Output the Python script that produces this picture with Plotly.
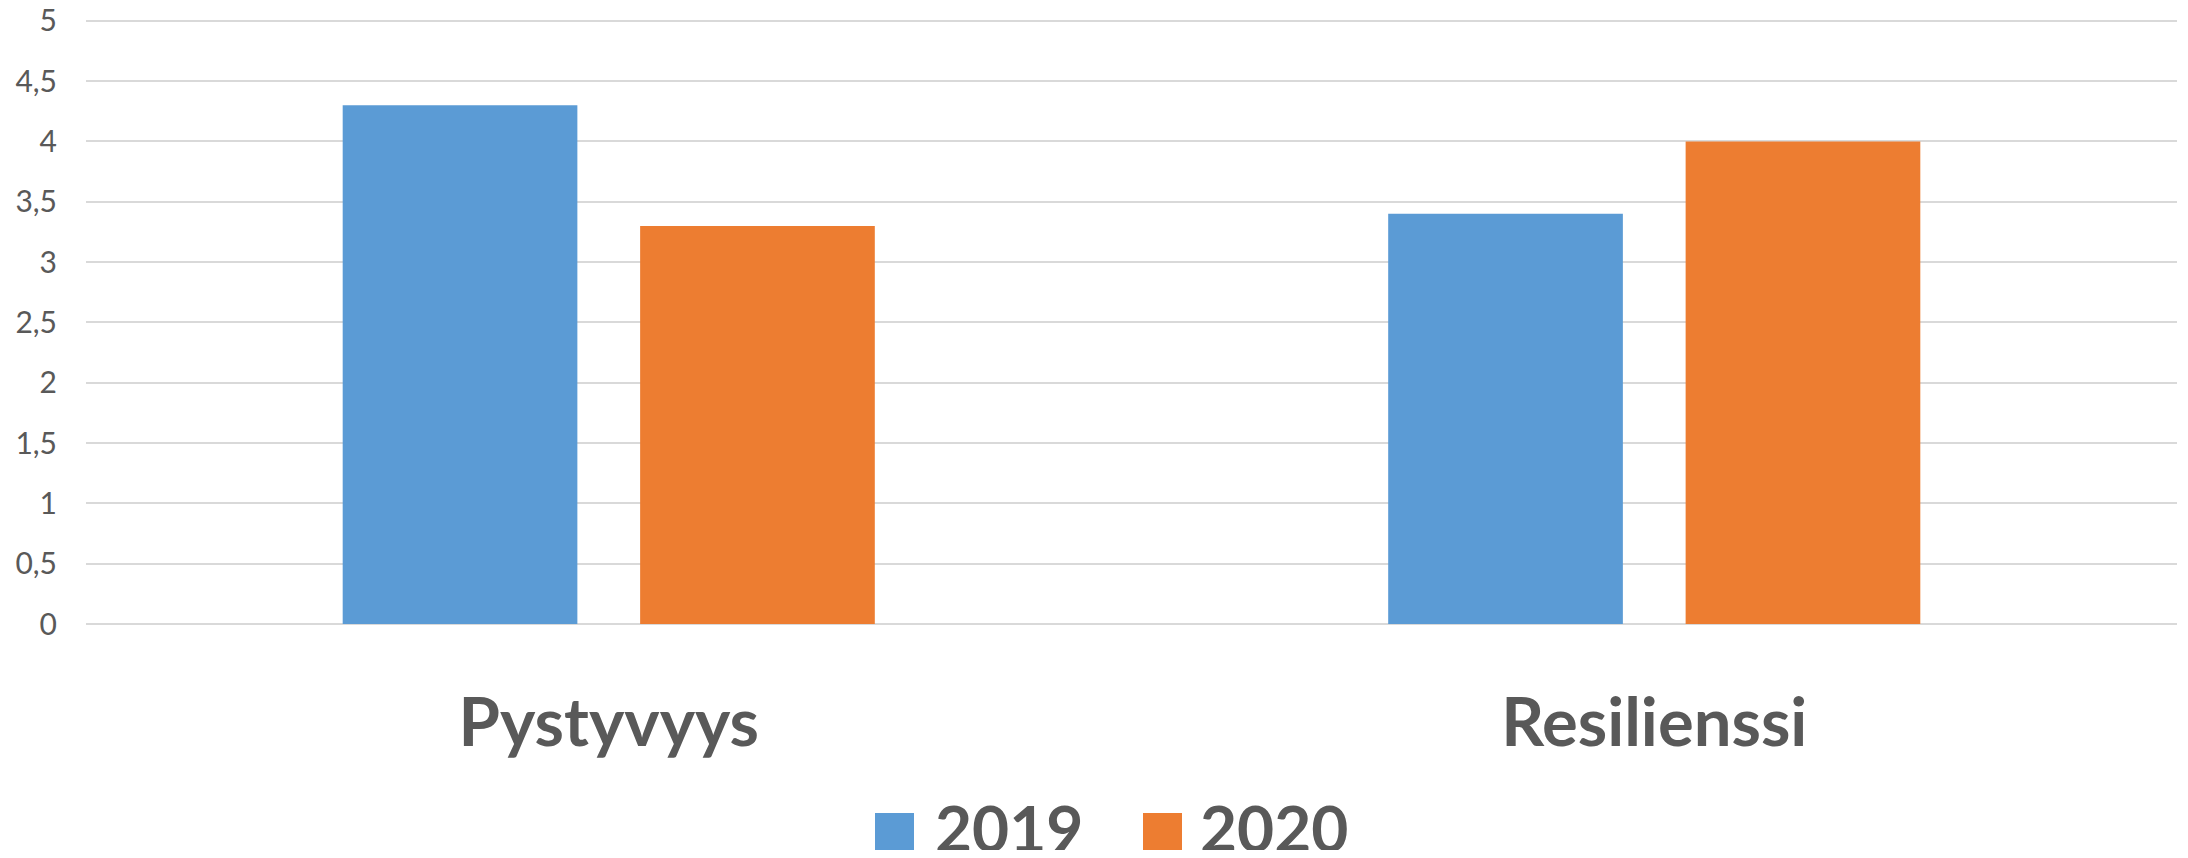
import plotly.graph_objects as go

categories = ["Pystyvyys", "Resilienssi"]
series_names = ["2019", "2020"]
values_2019 = [4.3, 3.4]
values_2020 = [3.3, 4.0]
y_ticks = [0, 0.5, 1, 1.5, 2, 2.5, 3, 3.5, 4, 4.5, 5]

COLORS = ["#5B9BD5", "#ED7D31"]
TEXT = "#595959"
FONT = "Lato"

# the page body has an 8px margin, so the figure is made 16px smaller
BODY = 8
W, H = 2188 - 2 * BODY, 858 - 2 * BODY
L, R, T, B = 78, 3, 11, 226

fig = go.Figure()
for name, vals, color in zip(series_names, [values_2019, values_2020], COLORS):
    fig.add_trace(go.Bar(
        x=categories,
        y=vals,
        name=name,
        marker=dict(color=color, line=dict(width=0)),
        showlegend=False
    ))


def px_to_paper(x, y):
    # screen pixels -> paper coords
    x, y = x - BODY, y - BODY
    return (x - L) / (W - L - R), (H - B - y) / (H - T - B)


# legend drawn by hand, the built-in one has tiny squares
legend_items = [(875, 933), (1143, 1198)]
shapes = []
annotations = []
for (sq_x, txt_x), name, color in zip(legend_items, series_names, COLORS):
    x0, y0 = px_to_paper(sq_x, 813)
    x1, y1 = px_to_paper(sq_x + 39, 853)
    shapes.append(dict(type="rect", xref="paper", yref="paper",
                       x0=x0, x1=x1, y0=y1, y1=y0,
                       fillcolor=color, line=dict(width=0)))
    tx, ty = px_to_paper(txt_x, 827)
    annotations.append(dict(text=f"<b>{name}</b>", xref="paper", yref="paper",
                            x=tx, y=ty, xanchor="left", yanchor="middle",
                            showarrow=False,
                            font=dict(family=FONT, size=64, color=TEXT)))

fig.update_layout(
    width=W,
    height=H,
    margin=dict(l=L, r=R, t=T, b=B, pad=0, autoexpand=False),
    plot_bgcolor="white",
    paper_bgcolor="white",
    separators=", ",
    barmode="group",
    bargap=0.431,
    bargroupgap=0.211,
    shapes=shapes,
    annotations=annotations,
    xaxis=dict(
        automargin=False,
        showgrid=False,
        showline=False,
        tickfont=dict(family=FONT, size=67, color=TEXT, weight="bold"),
        ticklabelstandoff=54
    ),
    yaxis=dict(
        automargin=False,
        # a little headroom so the top gridline is not clipped
        range=[0, 5.015],
        tickvals=y_ticks,
        showgrid=True,
        gridcolor="#D9D9D9",
        gridwidth=2,
        zeroline=True,
        zerolinecolor="#D9D9D9",
        zerolinewidth=2,
        tickfont=dict(family=FONT, size=30, color=TEXT),
        ticklabelstandoff=28,
        ticklabeloverflow="allow"
    )
)

fig.write_html("out.html")
